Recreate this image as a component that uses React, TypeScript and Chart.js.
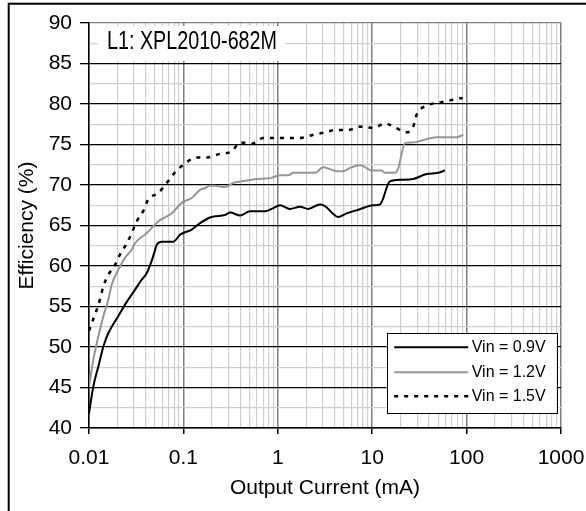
import React, { useEffect, useRef } from "react";
import { Chart, registerables } from "chart.js";

Chart.register(...registerables);

const FONT = '"Liberation Sans", Arial, Helvetica, sans-serif';

// ---------- data ----------
const SERIES_LABELS = ["Vin = 0.9V", "Vin = 1.2V", "Vin = 1.5V"];

const X_09 = [
  0.01, 0.0111, 0.01256, 0.0142, 0.016, 0.0204, 0.024, 0.0307, 0.0361, 0.0408,
  0.046, 0.049, 0.052, 0.0589, 0.0782, 0.092, 0.1225, 0.15, 0.1837, 0.21,
  0.276, 0.312, 0.398, 0.508, 0.731, 0.895, 1.055, 1.346, 1.718, 2.1,
  2.8, 3.16, 4.37, 5.37, 7.13, 10.3, 12.1, 15.4, 20.5, 27.2,
  37.8, 50.1, 59,
];
const Y_09 = [
  41.8, 45.1, 47.6, 50.05, 51.7, 53.8, 55.2, 57.06, 58.3, 59.1,
  60.6, 61.6, 62.6, 63.0, 63.0, 63.85, 64.5, 65.3, 65.9, 66.1,
  66.3, 66.6, 66.25, 66.75, 66.75, 67.15, 67.5, 67.05, 67.3, 67.05,
  67.6, 67.4, 66.05, 66.5, 66.95, 67.5, 67.6, 70.45, 70.65, 70.75,
  71.35, 71.5, 71.8,
];

const X_12 = [
  0.01, 0.0111, 0.01256, 0.0142, 0.016, 0.0174, 0.0204, 0.024, 0.0283, 0.0307,
  0.0408, 0.0542, 0.0752, 0.096, 0.1225, 0.15, 0.1695, 0.19, 0.216, 0.276,
  0.338, 0.415, 0.598, 0.826, 1.055, 1.29, 1.46, 2.48, 3.03, 4.21,
  4.95, 5.82, 7.43, 9.88, 12.6, 13.7, 17.5, 18.9, 22.3, 26.2,
  48.2, 78.5, 92.3,
];
const Y_12 = [
  45.1, 48.4, 51.3, 53.8, 55.8, 57.7, 59.5, 61.0, 62.0, 62.8,
  64.05, 65.5, 66.5, 67.8, 68.4, 69.4, 69.6, 69.9, 69.9, 69.75,
  70.25, 70.45, 70.75, 70.85, 71.2, 71.2, 71.5, 71.5, 72.2, 71.7,
  71.7, 72.1, 72.45, 71.8, 71.8, 71.5, 71.5, 72.1, 75.2, 75.25,
  75.9, 75.9, 76.2,
];

const X_15 = [
  0.01, 0.01083, 0.01207, 0.0131, 0.0142, 0.016, 0.0188, 0.0213, 0.0251, 0.0283,
  0.032, 0.0376, 0.0425, 0.0542, 0.0665, 0.0815, 0.108, 0.138, 0.176, 0.244,
  0.325, 0.398, 0.53, 0.702, 1.718, 2.29, 3.16, 4.21, 5.58, 7.43,
  10.3, 13.7, 17.5, 23.2, 27.2, 29.6, 37.8, 52.2, 66.7, 91,
];
const Y_15 = [
  52.0, 53.1, 54.6, 55.9, 57.5, 58.9, 60.1, 61.4, 62.8, 64.05,
  65.5, 66.8, 68.25, 69.0, 70.25, 71.55, 72.8, 73.4, 73.4, 73.85,
  74.15, 75.25, 75.1, 75.8, 75.8, 76.15, 76.5, 76.8, 76.8, 77.2,
  77.05, 77.6, 77.1, 76.5, 77.2, 78.7, 79.8, 80.2, 80.45, 80.75,
];

const X_DECADES = [0.01, 0.1, 1, 10, 100, 1000];
const X_TICK_LABELS = ["0.01", "0.1", "1", "10", "100", "1000"];
const X_MINOR_MULTIPLIERS = [2, 3, 4, 5, 6, 7, 8, 9];
const Y_MIN = 40;
const Y_MAX = 90;
const Y_LABEL_STEP = 5;
const Y_GRID_STEP = 2.5;

const CHART_TITLE = "L1: XPL2010-682M";
const X_TITLE = "Output Current (mA)";
const Y_TITLE = "Efficiency (%)";

// ---------- helpers ----------
const zip = (xs: number[], ys: number[]) => xs.map((x, i) => ({ x, y: ys[i] }));
const isDecade = (v: number) => X_DECADES.some((d) => Math.abs(v / d - 1) < 1e-6);
const isYMajor = (v: number) => Math.abs(v / Y_LABEL_STEP - Math.round(v / Y_LABEL_STEP)) < 1e-6;

const xGridValues: number[] = [];
X_DECADES.forEach((d, i) => {
  xGridValues.push(d);
  if (i < X_DECADES.length - 1) X_MINOR_MULTIPLIERS.forEach((m) => xGridValues.push(d * m));
});
const yGridValues: number[] = [];
for (let v = Y_MIN; v <= Y_MAX + 1e-9; v += Y_GRID_STEP) yGridValues.push(v);

const titlePlugin = {
  id: "boxTitle",
  afterDraw(chart: any) {
    const { ctx, chartArea } = chart;
    ctx.save();
    // outer frame
    ctx.strokeStyle = "#000";
    ctx.lineWidth = 2;
    ctx.strokeRect(8.7, 3.7, 800, 800);
    // title box
    ctx.fillStyle = "#fff";
    ctx.fillRect(chartArea.left + 9, chartArea.top + 3, 187, 35);
    ctx.fillStyle = "#000";
    ctx.font = `26px ${FONT}`;
    ctx.textBaseline = "alphabetic";
    ctx.textAlign = "left";
    ctx.fillText(CHART_TITLE, chartArea.left + 18, chartArea.top + 25.5, 170);
    ctx.restore();
  },
};

const legendPlugin = {
  id: "boxLegend",
  afterDraw(chart: any) {
    const { ctx, chartArea } = chart;
    const bx = chartArea.right - 174.3;
    const by = chartArea.bottom - 94.7;
    const bw = 170;
    const bh = 80;
    ctx.save();
    ctx.fillStyle = "#fff";
    ctx.fillRect(bx, by, bw, bh);
    ctx.strokeStyle = "#000";
    ctx.lineWidth = 1;
    ctx.strokeRect(Math.round(bx) + 0.5, Math.round(by) + 0.5, bw, bh);
    const rows = [14, 39, 63];
    chart.data.datasets.forEach((ds: any, i: number) => {
      const y = by + rows[i];
      ctx.beginPath();
      ctx.strokeStyle = ds.borderColor;
      ctx.lineWidth = ds.borderWidth;
      ctx.setLineDash(ds.borderDash || []);
      ctx.moveTo(bx + 7.5, y);
      ctx.lineTo(bx + 81.5, y);
      ctx.stroke();
      ctx.setLineDash([]);
      ctx.fillStyle = "#000";
      ctx.font = `16px ${FONT}`;
      ctx.textBaseline = "middle";
      ctx.textAlign = "left";
      ctx.fillText(ds.label, bx + 85, y + 0.5);
    });
    ctx.restore();
  },
};

export default function App() {
  const ref = useRef<HTMLCanvasElement | null>(null);

  useEffect(() => {
    if (!ref.current) return;
    const chart = new Chart(ref.current, {
      type: "line",
      data: {
        datasets: [
          {
            label: SERIES_LABELS[0],
            data: zip(X_09, Y_09),
            borderColor: "#000000",
            borderWidth: 2,
            pointRadius: 0,
            cubicInterpolationMode: "monotone",
          },
          {
            label: SERIES_LABELS[1],
            data: zip(X_12, Y_12),
            borderColor: "#969696",
            borderWidth: 2,
            pointRadius: 0,
            cubicInterpolationMode: "monotone",
          },
          {
            label: SERIES_LABELS[2],
            data: zip(X_15, Y_15),
            borderColor: "#000000",
            borderWidth: 2.5,
            borderDash: [4, 6],
            borderCapStyle: "butt",
            pointRadius: 0,
            cubicInterpolationMode: "monotone",
          },
        ] as any,
      },
      options: {
        responsive: false,
        animation: false,
        layout: { padding: { top: 23, right: 25, left: 0, bottom: 0 } },
        plugins: {
          legend: { display: false },
          tooltip: { enabled: false },
          title: { display: false },
        },
        scales: {
          x: {
            type: "logarithmic",
            position: "bottom",
            min: X_DECADES[0],
            max: X_DECADES[X_DECADES.length - 1],
            afterBuildTicks: (scale: any) => {
              scale.ticks = xGridValues.map((v) => ({ value: v, major: isDecade(v) }));
            },
            afterFit: (scale: any) => {
              scale.height = 83;
              scale.paddingLeft = 0;
              scale.paddingRight = 0;
            },
            ticks: {
              autoSkip: false,
              maxRotation: 0,
              minRotation: 0,
              padding: 11.5,
              color: "#000",
              font: { family: FONT, size: 21 },
              callback: (value: any) => {
                const idx = X_DECADES.findIndex((d) => Math.abs(Number(value) / d - 1) < 1e-6);
                return idx >= 0 ? X_TICK_LABELS[idx] : "";
              },
            },
            grid: {
              color: (c: any) => (isDecade(c.tick.value) ? "#7f7f7f" : "#cfcfcf"),
              lineWidth: (c: any) => (isDecade(c.tick.value) ? 1.5 : 1.2),
              tickColor: (c: any) => (isDecade(c.tick.value) ? "#000" : "rgba(0,0,0,0)"),
              tickLength: 6,
              drawTicks: true,
            },
            border: { color: "#000", width: 1.5 },
            title: {
              display: true,
              text: X_TITLE,
              color: "#000",
              font: { family: FONT, size: 21 },
              padding: { top: 0, bottom: 10.5 },
            },
          },
          y: {
            type: "linear",
            position: "left",
            min: Y_MIN,
            max: Y_MAX,
            afterBuildTicks: (scale: any) => {
              scale.ticks = yGridValues.map((v) => ({ value: v }));
            },
            afterFit: (scale: any) => {
              scale.width = 89;
              scale.paddingTop = 0;
              scale.paddingBottom = 0;
            },
            ticks: {
              autoSkip: false,
              padding: 8,
              color: "#000",
              font: { family: FONT, size: 21 },
              callback: (value: any) => (isYMajor(Number(value)) ? String(value) : ""),
            },
            grid: {
              color: (c: any) => {
                const v = c.tick.value;
                if (Math.abs(v - Y_MAX) < 1e-6) return "#7f7f7f";
                return isYMajor(v) ? "#000" : "#cfcfcf";
              },
              lineWidth: (c: any) => (isYMajor(c.tick.value) ? 1.3 : 1.2),
              tickColor: (c: any) => (isYMajor(c.tick.value) ? "#000" : "rgba(0,0,0,0)"),
              tickLength: 9,
              drawTicks: true,
            },
            border: { color: "#000", width: 1.5 },
            title: {
              display: true,
              text: Y_TITLE,
              color: "#000",
              font: { family: FONT, size: 21 },
              padding: { top: 15, bottom: 0 },
            },
          },
        },
      },
      plugins: [titlePlugin, legendPlugin],
    });
    return () => chart.destroy();
  }, []);

  return (
    <div style={{ position: "fixed", left: 0, top: 0, width: 586, height: 511, background: "#fff", overflow: "hidden" }}>
      <canvas ref={ref} width={586} height={511} style={{ width: 586, height: 511, display: "block" }} />
    </div>
  );
}
